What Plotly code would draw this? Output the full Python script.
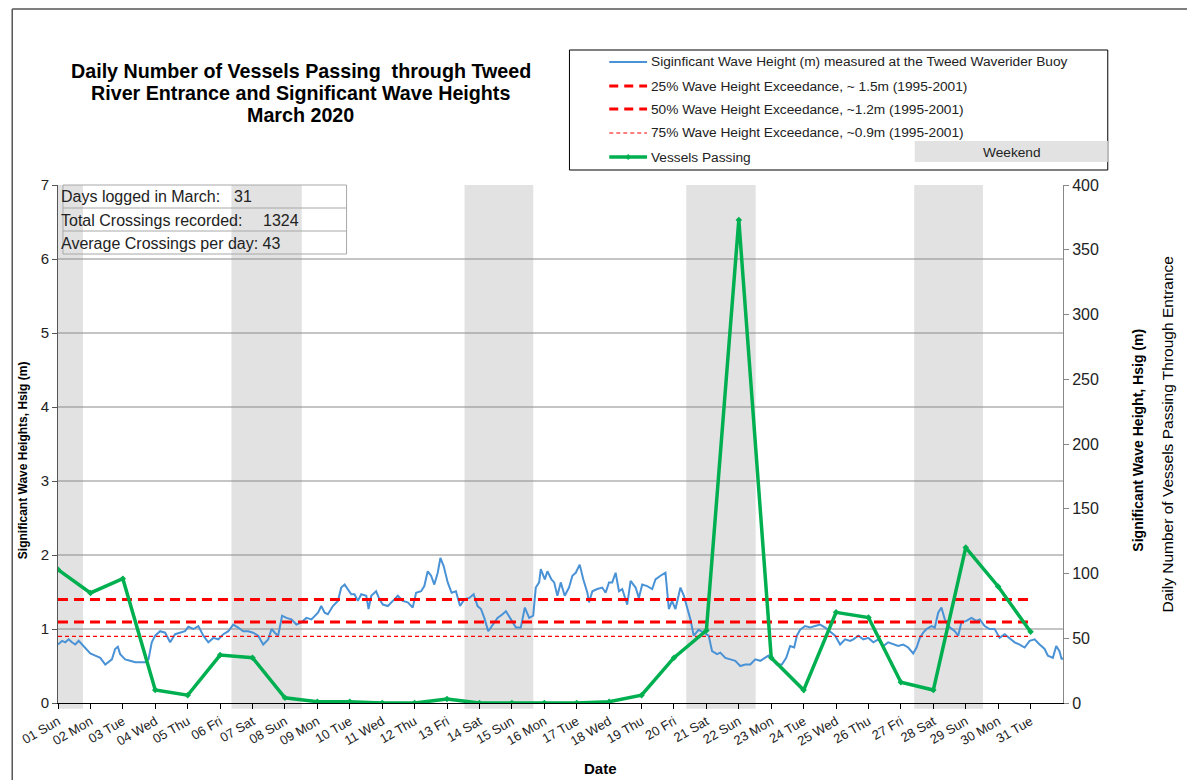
import plotly.graph_objects as go
import pandas as pd

# ---------------- data ----------------
START = pd.Timestamp("2020-03-01")
N_DAYS = 31

vessels = [103, 85, 96, 10, 6, 37, 35, 4, 1, 1, 0, 0, 3, 0, 0, 0, 0, 1, 6, 35,
           56, 373, 35, 10, 70, 66, 16, 10, 120, 90, 55]

wave_hours = [
    0, 3.0, 5.4, 7.9, 10.3, 12.8, 15.3, 17.7, 20.2, 23.9, 27.6, 31.3, 35.0, 37.4, 39.9, 42.3, 44.3, 46.0,
    49.7, 53.4, 57.1, 60.8, 64.5, 67.0, 69.4, 71.9, 75.6, 79.3, 83.0, 86.7, 90.4, 94.0, 96.5, 100.2,
    103.9, 107.6, 111.3, 115.0, 118.7, 122.4, 126.1, 129.7, 133.4, 137.1, 140.8, 144.5, 148.2, 151.9,
    155.6, 158.1, 160.5, 163.0, 165.9, 169.1, 172.8, 176.5, 180.2, 183.9, 187.6,
    190.0, 192.5, 194.9, 197.4, 199.8, 203.5, 207.2, 209.7, 212.2, 214.6, 217.1, 219.5, 222.0, 224.5,
    228.2, 229.9, 231.9, 235.5, 238.0, 240.5, 244.2, 247.9, 251.6, 255.2, 258.9, 262.6, 265.1, 268.8,
    271.2, 273.7, 276.2, 278.6, 281.1, 283.1, 285.5, 288.5, 291.4, 294.6, 297.6, 300.8, 304.5, 307.7,
    310.6, 313.1, 315.6, 318.5, 321.7, 325.4, 329.1, 331.6, 335.3, 339.0, 342.6, 345.6, 348.8, 351.8,
    353.7, 356.2, 357.4, 360.4, 362.3, 365.3, 367.3, 369.7, 372.2, 375.1, 378.3, 380.8, 383.3, 386.2, 388.9,
    391.9, 393.1, 395.6, 399.2, 402.9, 405.4, 407.9, 410.3, 412.8, 415.3, 417.7, 421.4, 423.9, 427.6,
    430.0, 432.5, 436.2, 439.9, 442.3, 446.0, 449.7, 452.2, 454.6, 457.1, 460.8, 463.3, 465.7, 468.2,
    470.6, 474.3, 478.0, 481.7, 484.2, 487.9, 490.3, 494.0, 497.7, 501.4, 505.1, 508.8, 512.5, 516.2,
    519.9, 523.6, 526.0, 528.5, 532.2, 535.9, 539.1, 542.0, 545.0, 547.0, 549.4, 553.1, 556.8, 560.5,
    564.2, 567.9, 571.6, 575.3, 579.0, 582.7, 586.4,
    588.8, 592.5, 596.2, 599.9, 603.6, 607.3, 611.0, 614.6, 618.3, 622.0, 625.7, 629.4, 633.1, 635.6,
    638.0, 640.5, 643.0, 646.7, 649.1, 651.6, 654.0, 656.5, 659.0, 661.4, 663.9, 666.4, 668.8, 672.5,
    676.2, 679.9, 682.4, 686.0, 689.7, 693.4, 697.1, 700.8, 704.5, 708.2, 711.9, 715.6, 719.3, 723.0,
    726.7, 730.4, 732.8, 736.5, 739.0, 741.4, 743.0, 744.0,
]
wave_hsig = [
    0.79, 0.84, 0.82, 0.86, 0.82, 0.79, 0.84, 0.79, 0.75, 0.67, 0.64, 0.61, 0.52, 0.55, 0.59, 0.73, 0.76, 0.66,
    0.59, 0.57, 0.55, 0.55, 0.55, 0.59, 0.82, 0.91, 0.97, 0.95, 0.82, 0.93, 0.95, 0.97, 1.03, 1.00,
    1.04, 0.91, 0.82, 0.88, 0.86, 0.93, 0.97, 1.06, 1.02, 0.97, 0.97, 0.95, 0.91, 0.79,
    0.86, 1.00, 0.95, 0.91, 1.18, 1.15, 1.13, 1.06, 1.09, 1.15, 1.13,
    1.17, 1.22, 1.31, 1.22, 1.20, 1.31, 1.38, 1.56, 1.60, 1.54, 1.47, 1.47, 1.38, 1.47,
    1.45, 1.27, 1.45, 1.51, 1.40, 1.33, 1.31, 1.38, 1.45, 1.38, 1.36, 1.29, 1.49, 1.51,
    1.58, 1.78, 1.72, 1.60, 1.76, 1.96, 1.85, 1.63, 1.49, 1.51, 1.31, 1.40, 1.42, 1.47,
    1.31, 1.27, 1.15, 0.97, 1.06, 1.15, 1.20, 1.24, 1.13, 1.02, 1.02, 1.29, 1.15, 1.18,
    1.56, 1.63, 1.81, 1.67, 1.78, 1.67, 1.63, 1.45, 1.63, 1.45, 1.56, 1.72, 1.76, 1.87, 1.67,
    1.49, 1.36, 1.51, 1.54, 1.56, 1.49, 1.63, 1.63, 1.76, 1.51, 1.54, 1.33, 1.65, 1.56,
    1.42, 1.60, 1.58, 1.54, 1.67, 1.72, 1.76, 1.27, 1.38, 1.27, 1.56, 1.45, 1.31, 1.13,
    0.91, 0.99, 0.95, 0.91, 0.70, 0.66, 0.68, 0.61, 0.59, 0.57, 0.50, 0.52, 0.52, 0.59,
    0.57, 0.61, 0.64, 0.59, 0.52, 0.52, 0.61, 0.77, 0.75, 0.91, 0.99, 1.04, 1.02, 1.04,
    1.06, 1.02, 0.97, 0.91, 0.79, 0.86, 0.84,
    0.86, 0.91, 0.86, 0.88, 0.82, 0.86, 0.77, 0.82, 0.79, 0.77, 0.79, 0.75, 0.67, 0.75,
    0.88, 0.95, 1.00, 1.04, 1.02, 1.22, 1.29, 1.13, 1.04, 1.00, 0.97, 0.91, 1.09, 1.11,
    1.15, 1.11, 1.13, 1.04, 1.00, 1.00, 0.88, 0.93, 0.88, 0.82, 0.79, 0.75, 0.84, 0.86,
    0.79, 0.73, 0.64, 0.61, 0.77, 0.70, 0.59, 0.61,
]

exceed_values = [1.40, 1.095, 0.90]
exceed_names = [
    "25% Wave Height Exceedance, ~ 1.5m (1995-2001)",
    "50% Wave Height Exceedance, ~1.2m (1995-2001)",
    "75% Wave Height Exceedance, ~0.9m (1995-2001)",
]
wave_name = "Siginficant Wave Height (m) measured at the Tweed Waverider Buoy"
vessel_name = "Vessels Passing"
title_lines = ["Daily Number of Vessels Passing  through Tweed",
               "River Entrance and Significant Wave Heights",
               "March 2020"]

weekend_start_days = [0.0, 5.35, 12.54, 19.38, 26.41]
weekend_end_days = [0.77, 7.52, 14.66, 21.52, 28.53]

y_left_ticks = [0, 1, 2, 3, 4, 5, 6, 7]
y_right_ticks = [0, 50, 100, 150, 200, 250, 300, 350, 400]

# ---------------- derived ----------------
day_dates = [START + pd.Timedelta(days=i) for i in range(N_DAYS)]
day_labels = [d.strftime("%d %a") for d in day_dates]
wave_x = [START + pd.Timedelta(hours=h) for h in wave_hours]
total = sum(vessels)
avg = round(total / len(vessels))

# ---------------- geometry (screen pixels; page body has an 8px offset) ----------------
W, H = 1195, 780
OFF = 8
L, R, T, B = 53, 1063, 185, 703


def px(x):
    return (x - L) / (R - L)


def py(y):
    return (B - y) / (B - T)


FONT = "Liberation Sans, Arial, sans-serif"
TXT = "#222222"
BLUE = "#4a92d6"
GREEN = "#00b050"
RED = "#ff0000"
GREY_BAND = "#e2e2e2"

fig = go.Figure()

fig.add_trace(go.Scatter(x=wave_x, y=wave_hsig, mode="lines", name=wave_name,
                         line=dict(color=BLUE, width=2), showlegend=False))
dashes = ["10px,6px", "10px,6px", "4px,3px"]
widths = [3, 3, 1.2]
for v, nm, ds, w in zip(exceed_values, exceed_names, dashes, widths):
    fig.add_trace(go.Scatter(x=[day_dates[0], day_dates[-1]], y=[v, v], mode="lines", name=nm,
                             line=dict(color=RED, width=w, dash=ds), showlegend=False))
fig.add_trace(go.Scatter(x=day_dates, y=vessels, mode="lines+markers", name=vessel_name, yaxis="y2",
                         line=dict(color=GREEN, width=3.5),
                         marker=dict(symbol="diamond", size=5, color=GREEN), showlegend=False))

shapes = []
for s, e in zip(weekend_start_days, weekend_end_days):
    shapes.append(dict(type="rect", layer="below", xref="x", yref="paper",
                       x0=START + pd.Timedelta(days=s), x1=START + pd.Timedelta(days=e),
                       y0=-0.011, y1=1, fillcolor=GREY_BAND, line=dict(width=0)))
for v in y_left_ticks[1:-1]:
    shapes.append(dict(type="line", layer="below", xref="paper", yref="y", x0=0, x1=1, y0=v, y1=v,
                       line=dict(color="#8a8a8a", width=1)))
# info table
shapes.append(dict(type="rect", xref="paper", yref="paper", x0=px(58), x1=px(343), y0=py(254), y1=py(185),
                   line=dict(color="#a8a8a8", width=1)))
for yy in (208, 231):
    shapes.append(dict(type="line", xref="paper", yref="paper", x0=px(58), x1=px(343), y0=py(yy), y1=py(yy),
                       line=dict(color="#a8a8a8", width=1)))
# legend box
shapes.append(dict(type="rect", xref="paper", yref="paper", x0=px(567), x1=px(1108), y0=py(170), y1=py(50),
                   line=dict(color="#000000", width=1), fillcolor="white"))
shapes.append(dict(type="rect", xref="paper", yref="paper", x0=px(914), x1=px(1108), y0=py(162), y1=py(141),
                   line=dict(width=0), fillcolor=GREY_BAND))
leg_rows = [62, 86, 109, 133, 157]
leg_styles = [(BLUE, 2, "solid"), (RED, 3, "9px,6px"), (RED, 3, "9px,6px"), (RED, 1.2, "4px,3px"),
              (GREEN, 3.5, "solid")]
leg_names = [wave_name] + exceed_names + [vessel_name]
for yy, (c, w, ds) in zip(leg_rows, leg_styles):
    shapes.append(dict(type="line", xref="paper", yref="paper", x0=px(607), x1=px(645), y0=py(yy), y1=py(yy),
                       line=dict(color=c, width=w, dash=ds)))
shapes.append(dict(type="path", xref="paper", yref="paper",
                   path=f"M {px(626)},{py(154)} L {px(629)},{py(157)} L {px(626)},{py(160)} "
                        f"L {px(623)},{py(157)} Z",
                   fillcolor=GREEN, line=dict(width=0)))
# outer border
shapes.append(dict(type="line", xref="paper", yref="paper", x0=px(7), x1=px(1210), y0=py(9), y1=py(9),
                   line=dict(color="#555555", width=1.5)))
shapes.append(dict(type="line", xref="paper", yref="paper", x0=px(7), x1=px(7), y0=py(9), y1=py(800),
                   line=dict(color="#555555", width=1.5)))

ann = []


def add_text(x, y, text, size=12, bold=False, xanchor="left", yanchor="middle", angle=0, color=TXT):
    ann.append(dict(xref="paper", yref="paper", x=px(x), y=py(y), text=text, showarrow=False,
                    xanchor=xanchor, yanchor=yanchor, textangle=angle,
                    font=dict(family=FONT, size=size, color=color, weight="bold" if bold else "normal")))


for yy, nm in zip(leg_rows, leg_names):
    add_text(647, yy, nm, size=13.7)
add_text(1012, 153, "Weekend", size=13.7, xanchor="center")

for yy, line in zip([71, 93, 115], title_lines):
    add_text(297, yy, line, size=19.7, bold=True, xanchor="center", color="#000000")

add_text(54, 197, "Days logged in March:", size=16)
add_text(228, 197, str(len(vessels)), size=16)
add_text(54, 220, "Total Crossings recorded:", size=16)
add_text(257, 220, str(total), size=16)
add_text(54, 243, f"Average Crossings per day: {avg}", size=16)

add_text(18, 460, "Significant Wave Heights, Hsig (m)", size=12, bold=True, xanchor="center", angle=-90,
         color="#000000")
add_text(1138, 440, "Significant Wave Height, Hsig (m)", size=14, bold=True, xanchor="center", angle=-90,
         color="#000000")
add_text(1168, 434, "Daily Number of Vessels Passing Through Entrance", size=15.5, xanchor="center", angle=-90,
         color="#000000")
add_text(598, 768, "Date", size=15, bold=True, xanchor="center", color="#000000")

fig.update_layout(
    width=W, height=H, autosize=False,
    margin=dict(l=L - OFF, r=W - (R - OFF), t=T - OFF, b=H - (B - OFF), pad=0),
    paper_bgcolor="white", plot_bgcolor="white",
    font=dict(family=FONT, color=TXT),
    showlegend=False,
    shapes=shapes, annotations=ann,
    xaxis=dict(type="date", range=[START, START + pd.Timedelta(days=N_DAYS)],
               tickmode="array", tickvals=day_dates, ticktext=day_labels, tickangle=-30,
               ticks="outside", ticklen=5, tickcolor="#000000", showline=True, linecolor="#000000",
               linewidth=1, showgrid=False, zeroline=False, tickfont=dict(size=13, color=TXT, family=FONT)),
    yaxis=dict(range=[0, 7], tickmode="array", tickvals=y_left_ticks, ticks="outside", ticklen=5,
               tickcolor="#555555", showline=True, linecolor="#555555", showgrid=False, zeroline=False,
               tickfont=dict(size=15, color=TXT, family=FONT)),
    yaxis2=dict(range=[0, 400], overlaying="y", side="right", tickmode="array", tickvals=y_right_ticks,
                ticks="outside", ticklen=5, tickcolor="#888888", showline=True, linecolor="#888888",
                showgrid=False, zeroline=False, tickfont=dict(size=16, color=TXT, family=FONT)),
)

fig.write_html("out.html")
